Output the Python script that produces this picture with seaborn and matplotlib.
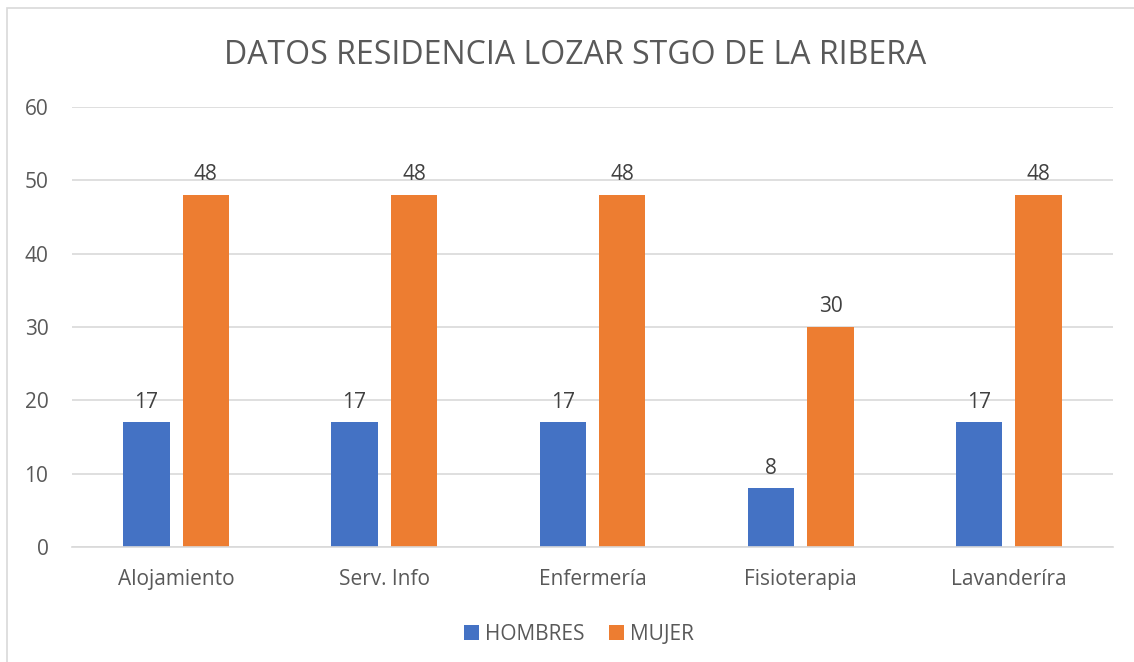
import matplotlib
matplotlib.use("Agg")
import matplotlib.pyplot as plt
import seaborn as sns
import pandas as pd
from matplotlib.patches import Rectangle, Patch

categories = ["Alojamiento", "Serv. Info", "Enfermería", "Fisioterapia", "Lavanderíra"]
hombres = [17, 17, 17, 8, 17]
mujer = [48, 48, 48, 30, 48]
series = ["HOMBRES", "MUJER"]
colors = ["#4472C4", "#ED7D31"]

df = pd.DataFrame({
    "categoria": categories * 2,
    "valor": hombres + mujer,
    "serie": [series[0]] * len(categories) + [series[1]] * len(categories),
})

sns.set_theme(style="white")
plt.rcParams["font.family"] = ["Open Sans", "DejaVu Sans"]
text_color = "#595959"
fs = 15

fig = plt.figure(figsize=(11.34, 6.62), dpi=100)
ax = fig.add_axes([72 / 1134, 1 - 547 / 662, (1113 - 72) / 1134, (547 - 107) / 662])

sns.barplot(data=df, x="categoria", y="valor", hue="serie", palette=colors,
            width=0.572, gap=0.22, ax=ax, legend=False, saturation=1,
            linewidth=0, edgecolor="none")

for cont in ax.containers:
    ax.bar_label(cont, fmt="%d", padding=7, fontsize=fs, color="#404040")

ax.set_ylim(0, 60)
ax.set_yticks(range(0, 61, 10))
ax.set_xlim(-0.5, len(categories) - 0.5)
ax.yaxis.grid(True, color="#D9D9D9", linewidth=1.2)
ax.set_axisbelow(True)
for s in ["top", "right", "left"]:
    ax.spines[s].set_visible(False)
ax.spines["bottom"].set_color("#D9D9D9")
ax.spines["bottom"].set_linewidth(1.2)
ax.set_xlabel("")
ax.set_ylabel("")
ax.tick_params(axis="both", length=0, labelsize=fs, colors=text_color)
ax.tick_params(axis="y", pad=17)
ax.tick_params(axis="x", pad=16)

fig.text(575 / 1134, 1 - 55 / 662, "DATOS RESIDENCIA LOZAR STGO DE LA RIBERA",
         ha="center", va="center", fontsize=23, color=text_color)

handles = [Patch(facecolor=c, edgecolor="none") for c in colors]
fig.legend(handles, series, loc="center", bbox_to_anchor=(579 / 1134, 1 - 634 / 662),
           ncol=2, frameon=False, fontsize=fs, labelcolor=text_color,
           handlelength=0.7, handleheight=0.7, handletextpad=0.3, columnspacing=1.2)

fig.patches.append(Rectangle((7 / 1134, -0.1), 1.2, 1 - 8 / 662 + 0.1,
                             transform=fig.transFigure, fill=False,
                             edgecolor="#D9D9D9", linewidth=1.2))

fig.savefig("out.png", dpi=100)
